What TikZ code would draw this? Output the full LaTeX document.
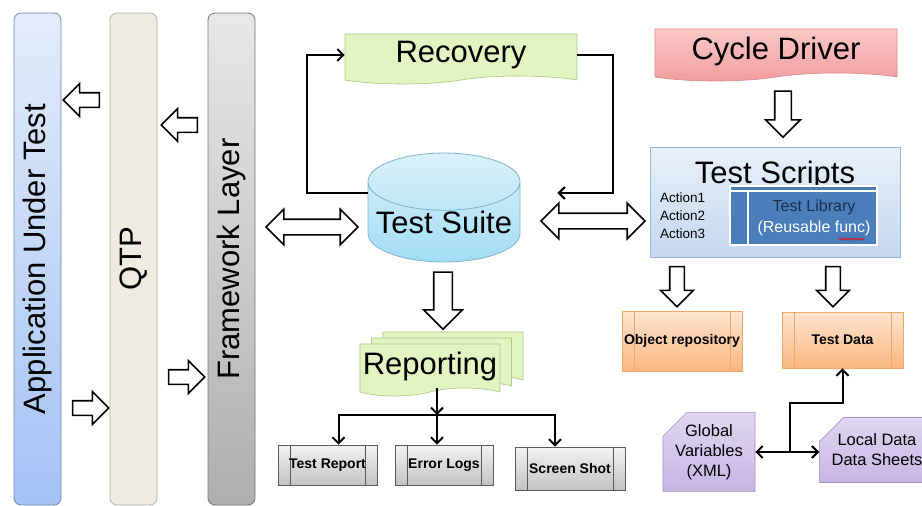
\documentclass[tikz,border=0pt]{standalone}
\usepackage{fontspec}
\setmainfont{Liberation Sans}
\usetikzlibrary{shapes.arrows,shapes.geometric,shapes.symbols,shapes.misc,arrows.meta,calc,decorations.pathmorphing}

\definecolor{autTop}{HTML}{E3ECFB}
\definecolor{autBot}{HTML}{A3C2F4}
\definecolor{qtpFill}{HTML}{EEEBE1}
\definecolor{fwTop}{HTML}{E8E8E8}
\definecolor{fwBot}{HTML}{AFAFAF}
\definecolor{recFill}{HTML}{E2F4C2}
\definecolor{recDraw}{HTML}{A9C97B}
\definecolor{cdTop}{HTML}{FBC8C8}
\definecolor{cdBot}{HTML}{F29C9C}
\definecolor{cdDraw}{HTML}{D88A8A}
\definecolor{tsTop}{HTML}{DAF2FB}
\definecolor{tsBot}{HTML}{A2DCF4}
\definecolor{tsDraw}{HTML}{7FB2C9}
\definecolor{scTop}{HTML}{E9F1FB}
\definecolor{scBot}{HTML}{C4D7F0}
\definecolor{scDraw}{HTML}{9DB6DA}
\definecolor{libFill}{HTML}{4A7EBB}
\definecolor{libText}{HTML}{1C2E4C}
\definecolor{orTop}{HTML}{FDE5D0}
\definecolor{orBot}{HTML}{FAB780}
\definecolor{orDraw}{HTML}{F0A868}
\definecolor{puTop}{HTML}{E0D6F1}
\definecolor{puBot}{HTML}{C6B5E4}
\definecolor{puDraw}{HTML}{A593CC}
\definecolor{prTop}{HTML}{F3F3F3}
\definecolor{prBot}{HTML}{C2C2C2}

\begin{document}
\begin{tikzpicture}[x=1pt, y=-1pt,
   every node/.style={inner sep=0pt},
   big/.style={font=\fontsize{31}{36}\selectfont},
   bar/.style={draw=#1, line width=0.8pt, rounded corners=7pt,
               minimum width=47pt, minimum height=492pt, big},
   blk/.style={single arrow, draw, fill=white, line width=1.6pt, inner sep=6.5pt,
               single arrow head extend=9pt, minimum height=#1},
   dblk/.style={double arrow, draw, fill=white, line width=1.6pt, inner sep=7pt,
               double arrow head extend=10pt, minimum height=#1},
   docbox/.style={tape, tape bend top=none, tape bend height=8pt,
               draw=#1, line width=0.6pt, big},
   proc/.style={draw=#1, line width=0.8pt, font=\bfseries\fontsize{14}{16}\selectfont,
               path picture={\draw[#1, line width=0.8pt]
                 ([xshift=12pt]path picture bounding box.north west) -- ([xshift=12pt]path picture bounding box.south west)
                 ([xshift=-12pt]path picture bounding box.north east) -- ([xshift=-12pt]path picture bounding box.south east);}},
   snip/.style={chamfered rectangle, chamfered rectangle corners=north west,
               chamfered rectangle xsep=12pt, chamfered rectangle ysep=12pt,
               draw=puDraw, line width=0.6pt, top color=puTop, bottom color=puBot,
               font=\fontsize{16.5}{20}\selectfont, align=center},
   conn/.style={line width=2pt, -{Straight Barb[length=6pt,width=12pt]}},
   conn2/.style={line width=2pt, {Straight Barb[length=6pt,width=12pt]}-{Straight Barb[length=6pt,width=12pt]}}]

\fill[white] (0,0) rectangle (922,506);
\useasboundingbox (0,0) rectangle (922,506);

% layers on the left
\node[bar=autBot!70!black, top color=autTop, bottom color=autBot] (aut) at (37.5,259) {\rotatebox{90}{Application Under Test}};
\node[bar=qtpFill!75!black, fill=qtpFill] (qtp) at (133.5,259) {\rotatebox{90}{QTP}};
\node[bar=black!55, top color=fwTop, bottom color=fwBot] (fwl) at (231.5,259) {\rotatebox{90}{Framework Layer}};

\node[blk=36pt, shape border rotate=180] (a1) at (85,100) {};
\node[blk=36pt, shape border rotate=180] (a2) at (183,125) {};
\node[blk=36pt] (a3) at (87,408) {};
\node[blk=36pt] (a4) at (183,377) {};

% test suite and recovery
\node[cylinder, shape border rotate=90, aspect=0.42, draw=tsDraw, line width=0.8pt,
      top color=tsTop, bottom color=tsBot, minimum width=152pt, minimum height=81pt, big] (tsuite) at (444,222) {Test Suite};
\node[docbox=recDraw, fill=recFill, minimum width=232pt, minimum height=50pt] (rec) at (461,55) {Recovery};

\draw[conn] ([yshift=29pt]tsuite.west) -- ++(-61,0) |- (rec.west);
\draw[conn] (rec.east) -- ++(36,0) |- ([xshift=37pt,yshift=29pt]tsuite.east);

\node[dblk=92pt] (d1) at (312,227) {};
\node[dblk=104pt] (d2) at (593,221) {};

% reporting
\node[blk=57pt, shape border rotate=270, inner sep=8.5pt, single arrow head extend=10pt] (a5) at (443,296) {};
\node[docbox=recDraw, fill=recFill, minimum width=140pt, minimum height=52pt] (rep3) at (453,354) {};
\node[docbox=recDraw, fill=recFill, minimum width=140pt, minimum height=52pt] (rep2) at (441.5,360) {};
\node[docbox=recDraw, fill=recFill, minimum width=140pt, minimum height=52pt] (rep) at (430,366) {Reporting};

\node[proc=black!65, top color=prTop, bottom color=prBot, minimum width=99pt, minimum height=40pt] (trep) at (327.5,465) {Test Report};
\node[proc=black!65, top color=prTop, bottom color=prBot, minimum width=98pt, minimum height=40pt] (elog) at (444,465) {Error Logs};
\node[proc=black!65, top color=prTop, bottom color=prBot, minimum width=110pt, minimum height=43pt] (shot) at (570,468.5) {Screen Shot};

\coordinate (br) at (437,415);
\draw[conn] (rep.south -| br) -- (br);
\draw[conn] (br) -| ([xshift=11pt]trep.north);
\draw[conn] (br) -- (elog.north -| br);
\draw[conn] (br) -| ([xshift=-15pt]shot.north);

% cycle driver and test scripts
\node[docbox=cdDraw, top color=cdTop, bottom color=cdBot, minimum width=242pt, minimum height=52pt] (cd) at (776,51) {Cycle Driver};
\node[blk=46pt, shape border rotate=270, inner sep=7.5pt] (a6) at (783,110) {};

\node[draw=scDraw, line width=0.8pt, top color=scTop, bottom color=scBot, minimum width=250pt, minimum height=110pt] (tscripts) at (775,202) {};
\node[big, anchor=center] (tstitle) at (775,175) {Test Scripts};
\node[anchor=north west, align=left, font=\fontsize{13.5}{18}\selectfont] (acts) at (660,193) {Action1\\Action2\\Action3};
\node[draw=white, line width=2pt, fill=libFill, minimum width=147pt, minimum height=59pt] (tlib) at (803.5,215.5) {};
\draw[white, line width=2pt] ([yshift=-6pt]tlib.north west) -- ([yshift=-6pt]tlib.north east)
      ([xshift=19pt,yshift=-6pt]tlib.north west) -- ([xshift=19pt]tlib.south west);
\node[align=center, font=\fontsize{16}{21}\selectfont, text=white] (libtxt) at (814,218) {\textcolor{libText}{Test Library}\\(Reusable func)};
\draw[red, line width=0.7pt, decorate, decoration={snake, amplitude=0.8pt, segment length=3pt}] (839,239) -- (864,239);

\node[blk=40pt, shape border rotate=270] (a7) at (677,283) {};
\node[blk=40pt, shape border rotate=270] (a8) at (833,283) {};

% repository and data
\node[proc=orDraw, top color=orTop, bottom color=orBot, minimum width=120pt, minimum height=60pt] (orep) at (682,341) {Object repository};
\node[proc=orDraw, top color=orTop, bottom color=orBot, minimum width=121pt, minimum height=56pt] (tdata) at (842.5,340) {Test Data};

\node[snip, minimum width=92pt, minimum height=60pt] (gv) at (709,452) {Global\\Variables\\(XML)};
\node[snip, minimum width=98pt, minimum height=65pt] (ld) at (877,450) {Local Data\\Data Sheets};

\coordinate (jn) at (790,452);
\draw[conn2] (gv.east) -- (ld.west |- gv.east);
\draw[conn] (jn) -- ++(0,-49) -| (tdata.south);

\end{tikzpicture}
\end{document}
